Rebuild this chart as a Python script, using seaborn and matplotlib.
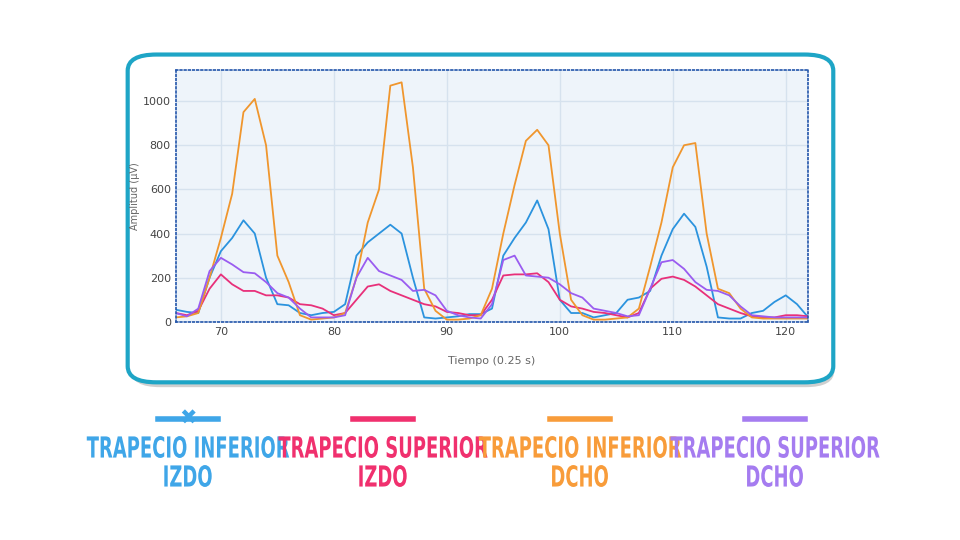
import numpy as np
import pandas as pd
import matplotlib.pyplot as plt
import seaborn as sns
from matplotlib.patches import FancyBboxPatch, PathPatch
from matplotlib.textpath import TextPath
from matplotlib.font_manager import FontProperties
from matplotlib.transforms import Affine2D, IdentityTransform

tiempo = list(range(66, 123))
inf_izdo = [55, 45, 40, 200, 320, 380, 460, 400, 200, 80, 75, 40, 30, 40, 45, 80, 300, 360, 400, 440,
            400, 200, 20, 15, 20, 25, 35, 35, 60, 300, 380, 450, 550, 420, 100, 40, 40, 20, 30, 40,
            100, 110, 140, 300, 420, 490, 430, 250, 20, 15, 15, 40, 50, 90, 120, 80, 20]
sup_izdo = [40, 30, 50, 150, 215, 170, 140, 140, 120, 120, 110, 80, 75, 60, 30, 40, 100, 160, 170, 140,
            120, 100, 80, 70, 45, 40, 30, 30, 100, 210, 215, 215, 220, 180, 100, 70, 60, 45, 40, 30,
            20, 40, 150, 195, 205, 190, 160, 120, 80, 60, 40, 25, 20, 20, 30, 30, 25]
inf_dcho = [20, 25, 40, 200, 380, 580, 950, 1010, 800, 300, 180, 30, 10, 15, 20, 40, 200, 450, 600, 1070,
            1085, 700, 150, 50, 10, 10, 15, 30, 150, 400, 620, 820, 870, 800, 400, 100, 30, 10, 10, 15,
            20, 60, 250, 450, 700, 800, 810, 400, 150, 130, 60, 20, 15, 15, 15, 15, 15]
sup_dcho = [40, 25, 60, 230, 290, 260, 225, 220, 180, 130, 110, 60, 20, 20, 20, 30, 200, 290, 230, 210,
            190, 140, 145, 120, 50, 30, 20, 15, 80, 280, 300, 210, 205, 200, 170, 130, 110, 60, 50, 40,
            25, 30, 150, 270, 280, 240, 180, 145, 140, 120, 70, 30, 25, 20, 20, 20, 20]

series = ["inf_izdo", "sup_izdo", "inf_dcho", "sup_dcho"]
label_lines = [["TRAPECIO INFERIOR", "IZDO"], ["TRAPECIO SUPERIOR", "IZDO"],
               ["TRAPECIO INFERIOR", "DCHO"], ["TRAPECIO SUPERIOR", "DCHO"]]
line_colors = ["#2b93de", "#e8307a", "#f0962d", "#9a5cf0"]
text_colors = ["#3fa6e8", "#f0306e", "#f89c3a", "#a57cf0"]

df = pd.DataFrame({"t": tiempo, "inf_izdo": inf_izdo, "sup_izdo": sup_izdo,
                   "inf_dcho": inf_dcho, "sup_dcho": sup_dcho})
long = df.melt(id_vars="t", var_name="serie", value_name="amp")

fig = plt.figure(figsize=(9.6, 5.4), dpi=100)
fig.patch.set_facecolor("white")

# rounded card with shadow
shadow = FancyBboxPatch((0.137, 0.283), 0.732, 0.608, boxstyle="round,pad=0,rounding_size=0.03",
                        transform=fig.transFigure, facecolor="#cfcfcf", edgecolor="none", zorder=0)
card = FancyBboxPatch((0.133, 0.292), 0.735, 0.607, boxstyle="round,pad=0,rounding_size=0.03",
                      transform=fig.transFigure, facecolor="white", edgecolor="#1ea5c6", linewidth=3, zorder=1)
fig.patches.extend([shadow, card])

ax = fig.add_axes([0.183, 0.404, 0.659, 0.466])
ax.set_zorder(2)
ax.set_facecolor("#eef4fa")
sns.lineplot(data=long, x="t", y="amp", hue="serie", hue_order=series,
             palette=line_colors, linewidth=1.3, legend=False, ax=ax)
ax.set_xlim(66, 122)
ax.set_ylim(0, 1140)
ax.set_xticks(range(70, 121, 10))
ax.set_yticks(range(0, 1001, 200))
ax.grid(True, color="#d6e2ee", linewidth=1)
ax.set_axisbelow(True)
for s in ax.spines.values():
    s.set_linestyle((0, (1, 1.5)))
    s.set_color("#2255aa")
    s.set_linewidth(1.2)
ax.tick_params(length=0, labelsize=8, colors="#444444")
ax.set_xlabel("Tiempo (0.25 s)", fontsize=8, color="#666666", labelpad=14)
ax.set_ylabel("Amplitud (µV)", fontsize=7, color="#666666", labelpad=2)

# condensed legend text drawn as scaled text paths (pixel coords)
prop = FontProperties(family="DejaVu Sans", weight="bold")
H = 540


def narrow_text(s, cx, cy_top, color, sx=0.62, size=29):
    tp = TextPath((0, 0), s, size=size, prop=prop)
    ext = tp.get_extents()
    w = ext.width * sx
    tr = Affine2D().translate(-ext.x0, -ext.y0 - ext.height / 2).scale(sx, 1).translate(cx - w / 2, H - cy_top)
    fig.add_artist(PathPatch(tr.transform_path(tp), facecolor=color, edgecolor="none",
                             transform=IdentityTransform()))


centers = [188, 383, 580, 775]
for i, (cx, lines, col) in enumerate(zip(centers, label_lines, text_colors)):
    fig.add_artist(plt.Line2D([(cx - 30) / 960, (cx + 30) / 960], [1 - 419 / 540] * 2,
                              color=col, linewidth=4, transform=fig.transFigure))
    if i == 0:
        fig.text(cx / 960, 1 - 419 / 540, "✖", color=col, fontsize=15, ha="center", va="center")
    narrow_text(lines[0], cx, 447, col)
    narrow_text(lines[1], cx, 476, col)

fig.savefig("out.png", dpi=100)
